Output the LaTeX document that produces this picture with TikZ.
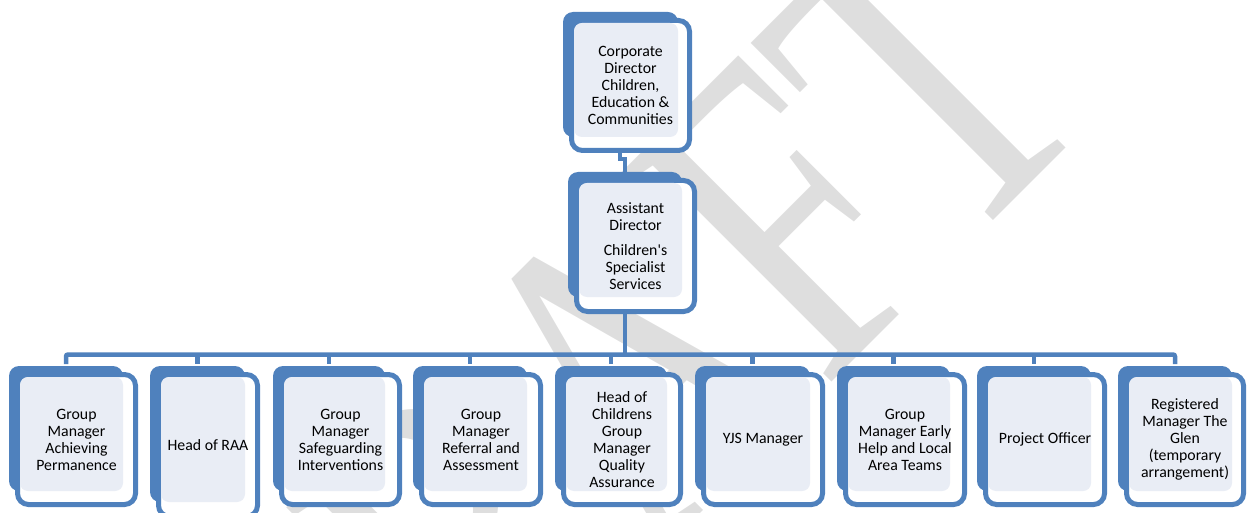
\documentclass[tikz,border=0pt]{standalone}
\usepackage{fontspec}
\usepackage{graphicx}
\newfontfamily\boxfont{Carlito}
\newfontfamily\wmfont{Liberation Serif}
\definecolor{blueC}{RGB}{79,129,189}
\definecolor{lightC}{RGB}{233,237,245}
\definecolor{wmC}{RGB}{222,222,222}
% #1 name, #2 x0, #3 y0, #4 x1, #5 y1 (back panel), #6 fx1, #7 fy1 (front outer), #8 text
\newcommand\orgbox[8]{%
  \fill[backpanel] (#2,#3) rectangle (#4,#5);
  \draw[frontpanel] ({#2+8.5},{#3+8.5}) rectangle ({#6-2.5},{#7-2.5});
  \fill[innerpanel] ({#2+11},{#3+11}) rectangle (#4,#5);
  \node[boxtext] (#1) at ({(#2+6+#6)/2},{(#3+6+#7)/2}) {#8};
}
\begin{document}
\begin{tikzpicture}[x=1pt,y=-1pt,
  backpanel/.style={fill=blueC, rounded corners=10pt},
  frontpanel/.style={draw=blueC, line width=5pt, fill=white, rounded corners=11pt},
  innerpanel/.style={fill=lightC, rounded corners=8pt},
  boxtext/.style={align=center, inner sep=0pt, text=black,
    font=\boxfont\fontsize{15.8}{17}\selectfont},
  conn/.style={draw=blueC, line width=4.5pt}]
\useasboundingbox (0,0) rectangle (1247,513);
% watermark
\begin{scope}
  \clip (0,0) rectangle (1247,513);
  \node[rotate=45, anchor=base west, inner sep=0pt, text=wmC,
    font=\wmfont\fontsize{453}{453}\selectfont] (wm) at (316,898) {\scalebox{0.75}[1]{DRAFT}};
\end{scope}
% connector coordinates
\coordinate (topout) at (620,148);
\coordinate (adin) at (625,176);
\coordinate (adout) at (625,300);
\coordinate (busy) at (625,354.5);
\coordinate (k1) at (66,364);
\coordinate (k2) at (197.5,364);
\coordinate (k3) at (329,364);
\coordinate (k4) at (470,364);
\coordinate (k5) at (611,364);
\coordinate (k6) at (752.5,364);
\coordinate (k7) at (893.5,364);
\coordinate (k8) at (1034,364);
\coordinate (k9) at (1175,364);
\draw[conn] (topout) -- ++(0,11) -| (adin);
\draw[conn] (adout) -- (busy);
\draw[conn, rounded corners=2pt] (k1) -- (k1 |- busy) -- (k9 |- busy) -- (k9);
\foreach \i in {2,...,8}{\draw[conn] (k\i |- busy) -- (k\i);}
% boxes
\orgbox{top}{563}{12}{678}{137}{692}{153}{Corporate\\Director\\Children,\\Education \&\\Communities}
\orgbox{ad}{568}{172}{682}{297}{697}{314}{Assistant\\Director\\[8pt]Children's\\Specialist\\Services}
\orgbox{g1}{9}{366}{123}{491}{138}{507}{Group\\Manager\\Achieving\\Permanence}
\orgbox{g2}{150}{366}{245}{502}{260}{519}{Head of RAA}
\orgbox{g3}{273}{366}{385}{491}{402}{507}{Group\\Manager\\Safeguarding\\Interventions}
\orgbox{g4}{413}{366}{527}{491}{543}{507}{Group\\Manager\\Referral and\\Assessment}
\orgbox{g5}{555}{366}{667}{491}{683}{507}{Head of\\Childrens\\Group\\Manager\\Quality\\Assurance}
\orgbox{g6}{695}{366}{810}{491}{825}{507}{YJS Manager}
\orgbox{g7}{837}{366}{950}{491}{967}{507}{Group\\Manager Early\\Help and Local\\Area Teams}
\orgbox{g8}{977}{366}{1091}{491}{1107}{507}{Project Officer}
\orgbox{g9}{1118}{366}{1232}{491}{1246}{507}{Registered\\Manager The\\Glen\\(temporary\\arrangement)}
\end{tikzpicture}
\end{document}
